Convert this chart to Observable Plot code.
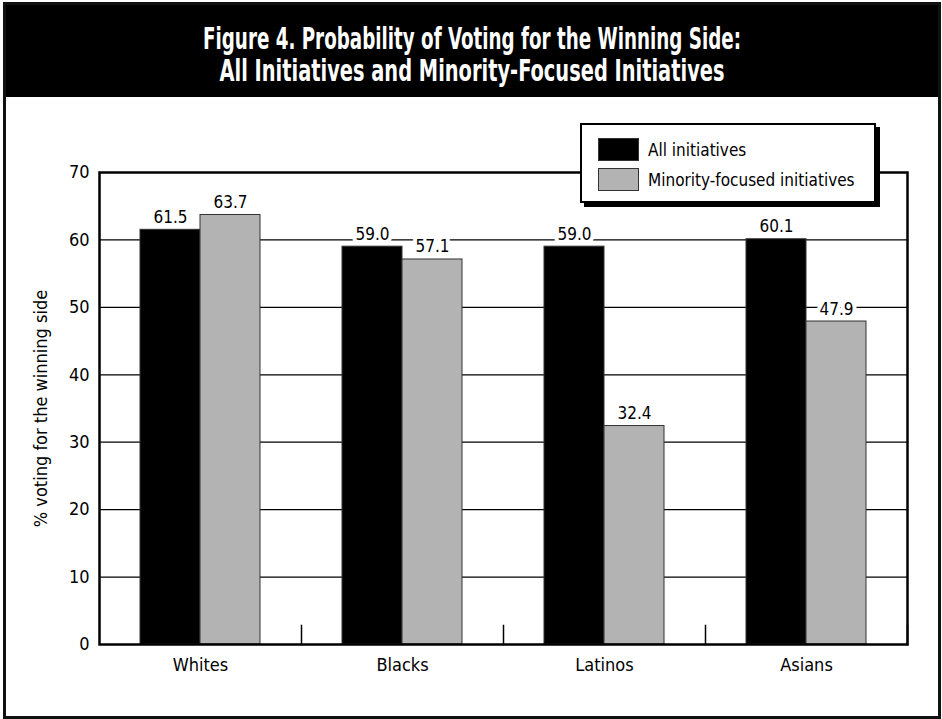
<!DOCTYPE html>
<html>
<head>
<meta charset="utf-8">
<script src="https://cdn.jsdelivr.net/npm/d3@7"></script>
<script src="https://cdn.jsdelivr.net/npm/@observablehq/plot@0.6"></script>
<style>
  html, body { margin: 0; padding: 0; background: #fff; }
  body { font-family: "DejaVu Sans Condensed", "Liberation Sans Narrow", Roboto, sans-serif; }
  #wrap { position: relative; width: 942px; height: 719px; overflow: hidden; }
  #header { position: absolute; left: 3px; top: 2px; width: 938px; height: 95px; background: #000; }
  #title { position: absolute; left: 3px; top: 23px; width: 938px; text-align: center; color: #fff; font-weight: bold; font-size: 30px; line-height: 32px; }
  #title span { display: block; white-space: nowrap; transform-origin: 50% 50%; }
  #border { position: absolute; left: 3px; top: 2px; width: 938px; height: 717px; border: 3px solid #111; box-sizing: border-box; z-index: 5; pointer-events: none; }
  #chart { position: absolute; left: 0; top: 97px; }
  #legend { position: absolute; left: 580px; top: 123px; width: 296px; height: 80px; box-sizing: border-box; border: 2px solid #000; background: #fff; box-shadow: 4px 4px 0 #000; z-index: 4; }
  .item { position: absolute; left: 16px; display: flex; align-items: center; font-size: 17px; white-space: nowrap; }
  .sw { width: 41px; height: 23px; box-sizing: border-box; border: 1px solid #333; margin-right: 9px; }
</style>
</head>
<body>
<div id="wrap">
  <div id="header"></div>
  <div id="title"><span id="t1">Figure 4. Probability of Voting for the Winning Side:</span><span id="t2">All Initiatives and Minority-Focused Initiatives</span></div>
  <div id="chart"></div>
  <div id="legend"></div>
  <div id="border"></div>
</div>
<script>
const categories = ["Whites", "Blacks", "Latinos", "Asians"];
const seriesNames = ["All initiatives", "Minority-focused initiatives"];
const allInitiatives = [61.5, 59.0, 59.0, 60.1];
const minorityFocused = [63.7, 57.1, 32.4, 47.9];
const yTicks = [0, 10, 20, 30, 40, 50, 60, 70];
const colors = ["#000000", "#b3b3b3"];

const data = [];
categories.forEach((c, i) => {
  data.push({group: c, series: seriesNames[0], value: allInitiatives[i]});
  data.push({group: c, series: seriesNames[1], value: minorityFocused[i]});
});

const font = '"DejaVu Sans Condensed", "Liberation Sans Narrow", Roboto, sans-serif';

const plot = Plot.plot({
  width: 942,
  height: 619,
  marginLeft: 97,
  marginRight: 34,
  marginTop: 75,
  marginBottom: 72,
  style: {background: "none", fontSize: "18px", fontFamily: font, color: "#000", overflow: "visible"},
  fx: {domain: categories, padding: 0, label: null, tickSize: 0, tickPadding: 14, axis: "bottom"},
  x: {domain: seriesNames, paddingInner: 0, paddingOuter: 0.66, axis: null},
  y: {domain: [0, 70], ticks: yTicks, tickSize: 0, tickPadding: 10, label: "% voting for the winning side", labelAnchor: "center", labelOffset: 65, labelArrow: "none"},
  color: {domain: seriesNames, range: colors},
  marks: [
    Plot.ruleY(yTicks, {stroke: "#000", strokeWidth: 1.2}),
    Plot.barY(data, {fx: "group", x: "series", y: "value", fill: "series", stroke: "#333", strokeWidth: 1}),
    Plot.frame({anchor: "right", insetTop: 453, stroke: "#000", strokeWidth: 1.5}),
    Plot.frame({facet: "super", stroke: "#000", strokeWidth: 2.5}),
    Plot.text(data, {fx: "group", x: "series", y: "value", text: d => d.value.toFixed(1), lineAnchor: "bottom", dy: -7, fill: "#000", stroke: "#fff", strokeWidth: 8, fontSize: 17})
  ]
});
document.getElementById("chart").appendChild(plot);

// compress the title lines horizontally to the reference's condensed widths
const titleWidths = {t1: 538, t2: 505};
Object.entries(titleWidths).forEach(([id, w]) => {
  const el = document.getElementById(id);
  const range = document.createRange();
  range.selectNodeContents(el);
  const actual = range.getBoundingClientRect().width;
  el.style.transform = `scaleX(${w / actual})`;
});

const legend = document.getElementById("legend");
seriesNames.forEach((s, i) => {
  const item = document.createElement("div");
  item.className = "item";
  item.style.top = (13 + i * 30) + "px";
  const sw = document.createElement("div");
  sw.className = "sw";
  sw.style.background = colors[i];
  const label = document.createElement("span");
  label.textContent = s;
  item.appendChild(sw);
  item.appendChild(label);
  legend.appendChild(item);
});
</script>
</body>
</html>
